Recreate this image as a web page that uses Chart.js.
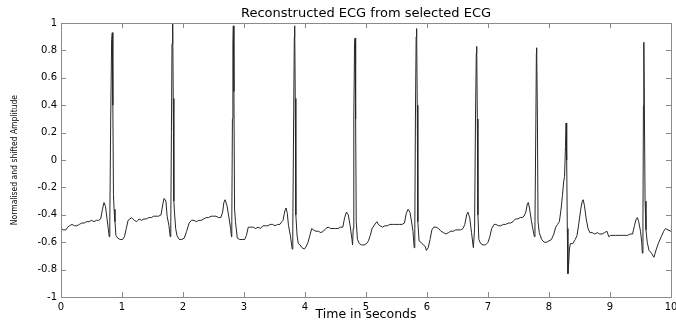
<!DOCTYPE html>
<html>
<head>
<meta charset="utf-8">
<script src="https://cdn.jsdelivr.net/npm/chart.js@4/dist/chart.umd.min.js"></script>
<style>
  html, body { margin: 0; padding: 0; background: #fff; }
  #ecg { display: block; }
</style>
</head>
<body>
<canvas id="ecg" width="676" height="322"></canvas>
<script>
// values (seconds, normalised amplitude)
var timeSec = [
  0.00, 0.04, 0.08, 0.11, 0.14, 0.18, 0.22, 0.26, 0.30, 0.34, 0.38, 0.42, 0.46, 0.50, 0.54, 0.58, 0.62, 0.65,
  0.68, 0.705, 0.73, 0.755, 0.775, 0.79, 0.80, 0.815, 0.83, 0.841, 0.85, 0.86, 0.87, 0.885, 0.90, 0.93, 0.97,
  1.01, 1.04, 1.07, 1.10, 1.13, 1.16, 1.20, 1.24, 1.28, 1.32, 1.36, 1.40, 1.44, 1.48, 1.52, 1.56, 1.60, 1.64,
  1.67, 1.69, 1.72, 1.74, 1.77, 1.79, 1.80, 1.81, 1.82, 1.831, 1.84, 1.85, 1.86, 1.88, 1.90, 1.94, 1.98,
  2.02, 2.06, 2.10, 2.14, 2.18, 2.22, 2.26, 2.30, 2.34, 2.38, 2.42, 2.46, 2.50, 2.54, 2.58, 2.62, 2.65,
  2.67, 2.69, 2.72, 2.75, 2.78, 2.795, 2.80, 2.81, 2.818, 2.825, 2.835, 2.845, 2.86, 2.89, 2.93, 2.97,
  3.01, 3.04, 3.07, 3.11, 3.15, 3.19, 3.23, 3.27, 3.31, 3.35, 3.39, 3.43, 3.47, 3.51, 3.55, 3.59, 3.62,
  3.64, 3.67, 3.69, 3.71, 3.73, 3.76, 3.79, 3.80, 3.815, 3.825, 3.831, 3.84, 3.85, 3.87, 3.89, 3.92, 3.95, 3.99,
  4.02, 4.05, 4.08, 4.11, 4.14, 4.18, 4.22, 4.26, 4.30, 4.34, 4.38, 4.42, 4.46, 4.50, 4.54, 4.58, 4.62,
  4.65, 4.68, 4.71, 4.74, 4.77, 4.78, 4.79, 4.80, 4.812, 4.82, 4.83, 4.84, 4.86, 4.89, 4.93, 4.97,
  5.01, 5.04, 5.07, 5.10, 5.13, 5.16, 5.18, 5.20, 5.23, 5.27, 5.31, 5.35, 5.39, 5.43, 5.47, 5.51, 5.55, 5.59, 5.63,
  5.66, 5.69, 5.72, 5.74, 5.77, 5.79, 5.80, 5.81, 5.822, 5.83, 5.84, 5.85, 5.87, 5.90, 5.94, 5.97, 5.99,
  6.02, 6.05, 6.08, 6.11, 6.15, 6.19, 6.23, 6.27, 6.31, 6.35, 6.39, 6.43, 6.47, 6.51, 6.55, 6.59, 6.62,
  6.65, 6.67, 6.70, 6.73, 6.76, 6.78, 6.795, 6.808, 6.815, 6.825, 6.835, 6.85, 6.88, 6.92, 6.96,
  7.00, 7.03, 7.06, 7.10, 7.13, 7.17, 7.21, 7.25, 7.29, 7.33, 7.37, 7.41, 7.45, 7.49, 7.53, 7.56, 7.59,
  7.62, 7.645, 7.66, 7.68, 7.71, 7.73, 7.76, 7.77, 7.785, 7.793, 7.798, 7.81, 7.82, 7.84, 7.88, 7.92, 7.96,
  8.00, 8.04, 8.08, 8.11, 8.14, 8.17, 8.20, 8.22, 8.24, 8.255, 8.27, 8.28, 8.29, 8.30, 8.31, 8.32, 8.335,
  8.35, 8.39, 8.43, 8.46, 8.49, 8.52, 8.545, 8.56, 8.58, 8.61, 8.64, 8.67, 8.71, 8.75, 8.79, 8.83, 8.87,
  8.91, 8.95, 8.98, 9.01, 9.05, 9.09, 9.13, 9.17, 9.21, 9.25, 9.29, 9.33, 9.37, 9.40, 9.43, 9.45, 9.47,
  9.50, 9.52, 9.53, 9.54, 9.548, 9.553, 9.557, 9.565, 9.575, 9.59, 9.61, 9.64, 9.68, 9.72, 9.76, 9.80,
  9.84, 9.88, 9.91, 9.95, 10.00
];
var amplitude = [
  -0.50, -0.51, -0.51, -0.49, -0.48, -0.47, -0.48, -0.48, -0.47, -0.46, -0.46, -0.45, -0.45, -0.44, -0.45, -0.44, -0.44, -0.43,
  -0.36, -0.31, -0.34, -0.43, -0.50, -0.56, -0.45, 0.30, 0.88, 0.93, 0.40, -0.25, -0.36, -0.45, -0.55, -0.57, -0.58,
  -0.58, -0.56, -0.50, -0.44, -0.43, -0.42, -0.44, -0.45, -0.43, -0.44, -0.43, -0.43, -0.42, -0.42, -0.41, -0.41, -0.41, -0.40,
  -0.32, -0.28, -0.30, -0.41, -0.48, -0.56, -0.45, 0.20, 0.85, 1.00, 0.45, -0.30, -0.38, -0.50, -0.55, -0.58, -0.58,
  -0.57, -0.52, -0.46, -0.44, -0.44, -0.45, -0.44, -0.44, -0.43, -0.42, -0.42, -0.41, -0.41, -0.41, -0.42, -0.42, -0.38,
  -0.31, -0.29, -0.33, -0.41, -0.50, -0.56, -0.45, 0.30, 0.85, 0.98, 0.50, -0.35, -0.45, -0.57, -0.58, -0.58,
  -0.58, -0.55, -0.49, -0.49, -0.49, -0.50, -0.49, -0.50, -0.48, -0.48, -0.48, -0.47, -0.47, -0.48, -0.47, -0.47, -0.45,
  -0.44, -0.37, -0.35, -0.39, -0.48, -0.55, -0.65, -0.50, 0.35, 0.90, 0.98, 0.45, -0.40, -0.55, -0.61, -0.62, -0.64, -0.65,
  -0.63, -0.60, -0.55, -0.50, -0.51, -0.52, -0.52, -0.53, -0.52, -0.50, -0.49, -0.50, -0.50, -0.50, -0.50, -0.49, -0.49,
  -0.42, -0.38, -0.40, -0.48, -0.58, -0.62, -0.50, 0.30, 0.85, 0.89, 0.30, -0.45, -0.58, -0.61, -0.62, -0.62,
  -0.61, -0.59, -0.55, -0.50, -0.48, -0.46, -0.45, -0.47, -0.48, -0.49, -0.48, -0.48, -0.47, -0.47, -0.47, -0.47, -0.47, -0.47, -0.46,
  -0.39, -0.36, -0.38, -0.43, -0.52, -0.64, -0.50, 0.30, 0.90, 0.96, 0.40, -0.45, -0.59, -0.60, -0.62, -0.63, -0.66,
  -0.64, -0.58, -0.51, -0.49, -0.49, -0.50, -0.52, -0.53, -0.54, -0.53, -0.52, -0.52, -0.51, -0.51, -0.51, -0.50, -0.47,
  -0.40, -0.38, -0.42, -0.53, -0.64, -0.50, 0.30, 0.78, 0.83, 0.30, -0.40, -0.58, -0.61, -0.62, -0.62,
  -0.60, -0.56, -0.50, -0.47, -0.47, -0.48, -0.48, -0.47, -0.47, -0.46, -0.46, -0.45, -0.43, -0.43, -0.42, -0.42, -0.41,
  -0.38, -0.32, -0.31, -0.35, -0.44, -0.49, -0.56, -0.45, 0.30, 0.78, 0.82, 0.30, -0.45, -0.53, -0.58, -0.60, -0.60,
  -0.59, -0.58, -0.54, -0.49, -0.47, -0.45, -0.35, -0.26, -0.16, -0.12, 0.10, 0.27, 0.00, -0.50, -0.83, -0.78, -0.65,
  -0.61, -0.61, -0.58, -0.55, -0.46, -0.36, -0.30, -0.29, -0.33, -0.43, -0.50, -0.53, -0.53, -0.54, -0.53, -0.54, -0.54,
  -0.53, -0.52, -0.56, -0.55, -0.55, -0.55, -0.55, -0.55, -0.55, -0.55, -0.55, -0.54, -0.54, -0.48, -0.43, -0.42, -0.45,
  -0.52, -0.60, -0.68, -0.45, 0.40, 0.82, 0.86, 0.30, -0.30, -0.51, -0.60, -0.66, -0.68, -0.71, -0.65, -0.60,
  -0.56, -0.52, -0.50, -0.51, -0.52
];
var xTicks = [0, 1, 2, 3, 4, 5, 6, 7, 8, 9, 10];
var yTicks = [-1, -0.8, -0.6, -0.4, -0.2, 0, 0.2, 0.4, 0.6, 0.8, 1];

var points = timeSec.map(function (t, i) { return { x: t, y: amplitude[i] }; });

// box round the axes with short inward tick marks, like the original figure
var axesBox = {
  id: 'axesBox',
  afterDraw: function (chart) {
    var ctx = chart.ctx, a = chart.chartArea;
    var xs = chart.scales.x, ys = chart.scales.y;
    ctx.save();
    ctx.strokeStyle = '#8a8a8a';
    ctx.lineWidth = 1;
    ctx.strokeRect(Math.round(a.left) + 0.5, Math.round(a.top) + 0.5,
      Math.round(a.right - a.left), Math.round(a.bottom - a.top));
    ctx.beginPath();
    xTicks.forEach(function (v) {
      var px = Math.round(xs.getPixelForValue(v)) + 0.5;
      ctx.moveTo(px, a.bottom); ctx.lineTo(px, a.bottom - 5);
      ctx.moveTo(px, a.top); ctx.lineTo(px, a.top + 5);
    });
    yTicks.forEach(function (v) {
      var py = Math.round(ys.getPixelForValue(v)) + 0.5;
      ctx.moveTo(a.left, py); ctx.lineTo(a.left + 5, py);
      ctx.moveTo(a.right, py); ctx.lineTo(a.right - 5, py);
    });
    ctx.stroke();
    ctx.restore();
  }
};

Chart.defaults.color = '#000';
Chart.defaults.font.family = "'DejaVu Sans', sans-serif";

new Chart(document.getElementById('ecg'), {
  type: 'line',
  data: {
    datasets: [{
      data: points,
      borderColor: '#262626',
      borderWidth: 1,
      pointRadius: 0,
      tension: 0,
      fill: false
    }]
  },
  options: {
    responsive: false,
    animation: false,
    layout: { padding: 0 },
    plugins: {
      legend: { display: false },
      tooltip: { enabled: false },
      title: {
        display: true,
        fullSize: false,
        text: 'Reconstructed ECG from selected ECG',
        font: { size: 13, weight: 'normal' },
        padding: { top: 6, bottom: 1.5 }
      }
    },
    scales: {
      x: {
        type: 'linear',
        min: 0,
        max: 10,
        grid: { display: false, drawTicks: false },
        border: { display: false },
        ticks: {
          stepSize: 1,
          padding: 4,
          font: { size: 10 },
          maxRotation: 0,
          callback: function (v) { return String(v); }
        },
        title: {
          display: true,
          text: 'Time in seconds',
          font: { size: 12.5 },
          padding: { top: 0, bottom: 0 }
        },
        afterFit: function (s) { s.height = 25; s.paddingRight = 5; }
      },
      y: {
        min: -1,
        max: 1,
        grid: { display: false, drawTicks: false },
        border: { display: false },
        ticks: {
          stepSize: 0.2,
          padding: 4,
          font: { size: 10 },
          callback: function (v) { return String(+v.toFixed(1)); }
        },
        title: {
          display: true,
          text: 'Normalised and shifted Amplitude',
          font: { family: "'Liberation Sans Narrow', 'DejaVu Sans Condensed', sans-serif", size: 8.5 },
          padding: { top: 10, bottom: 0 }
        },
        afterFit: function (s) { s.width = 61; }
      }
    }
  },
  plugins: [axesBox]
});
</script>
</body>
</html>
